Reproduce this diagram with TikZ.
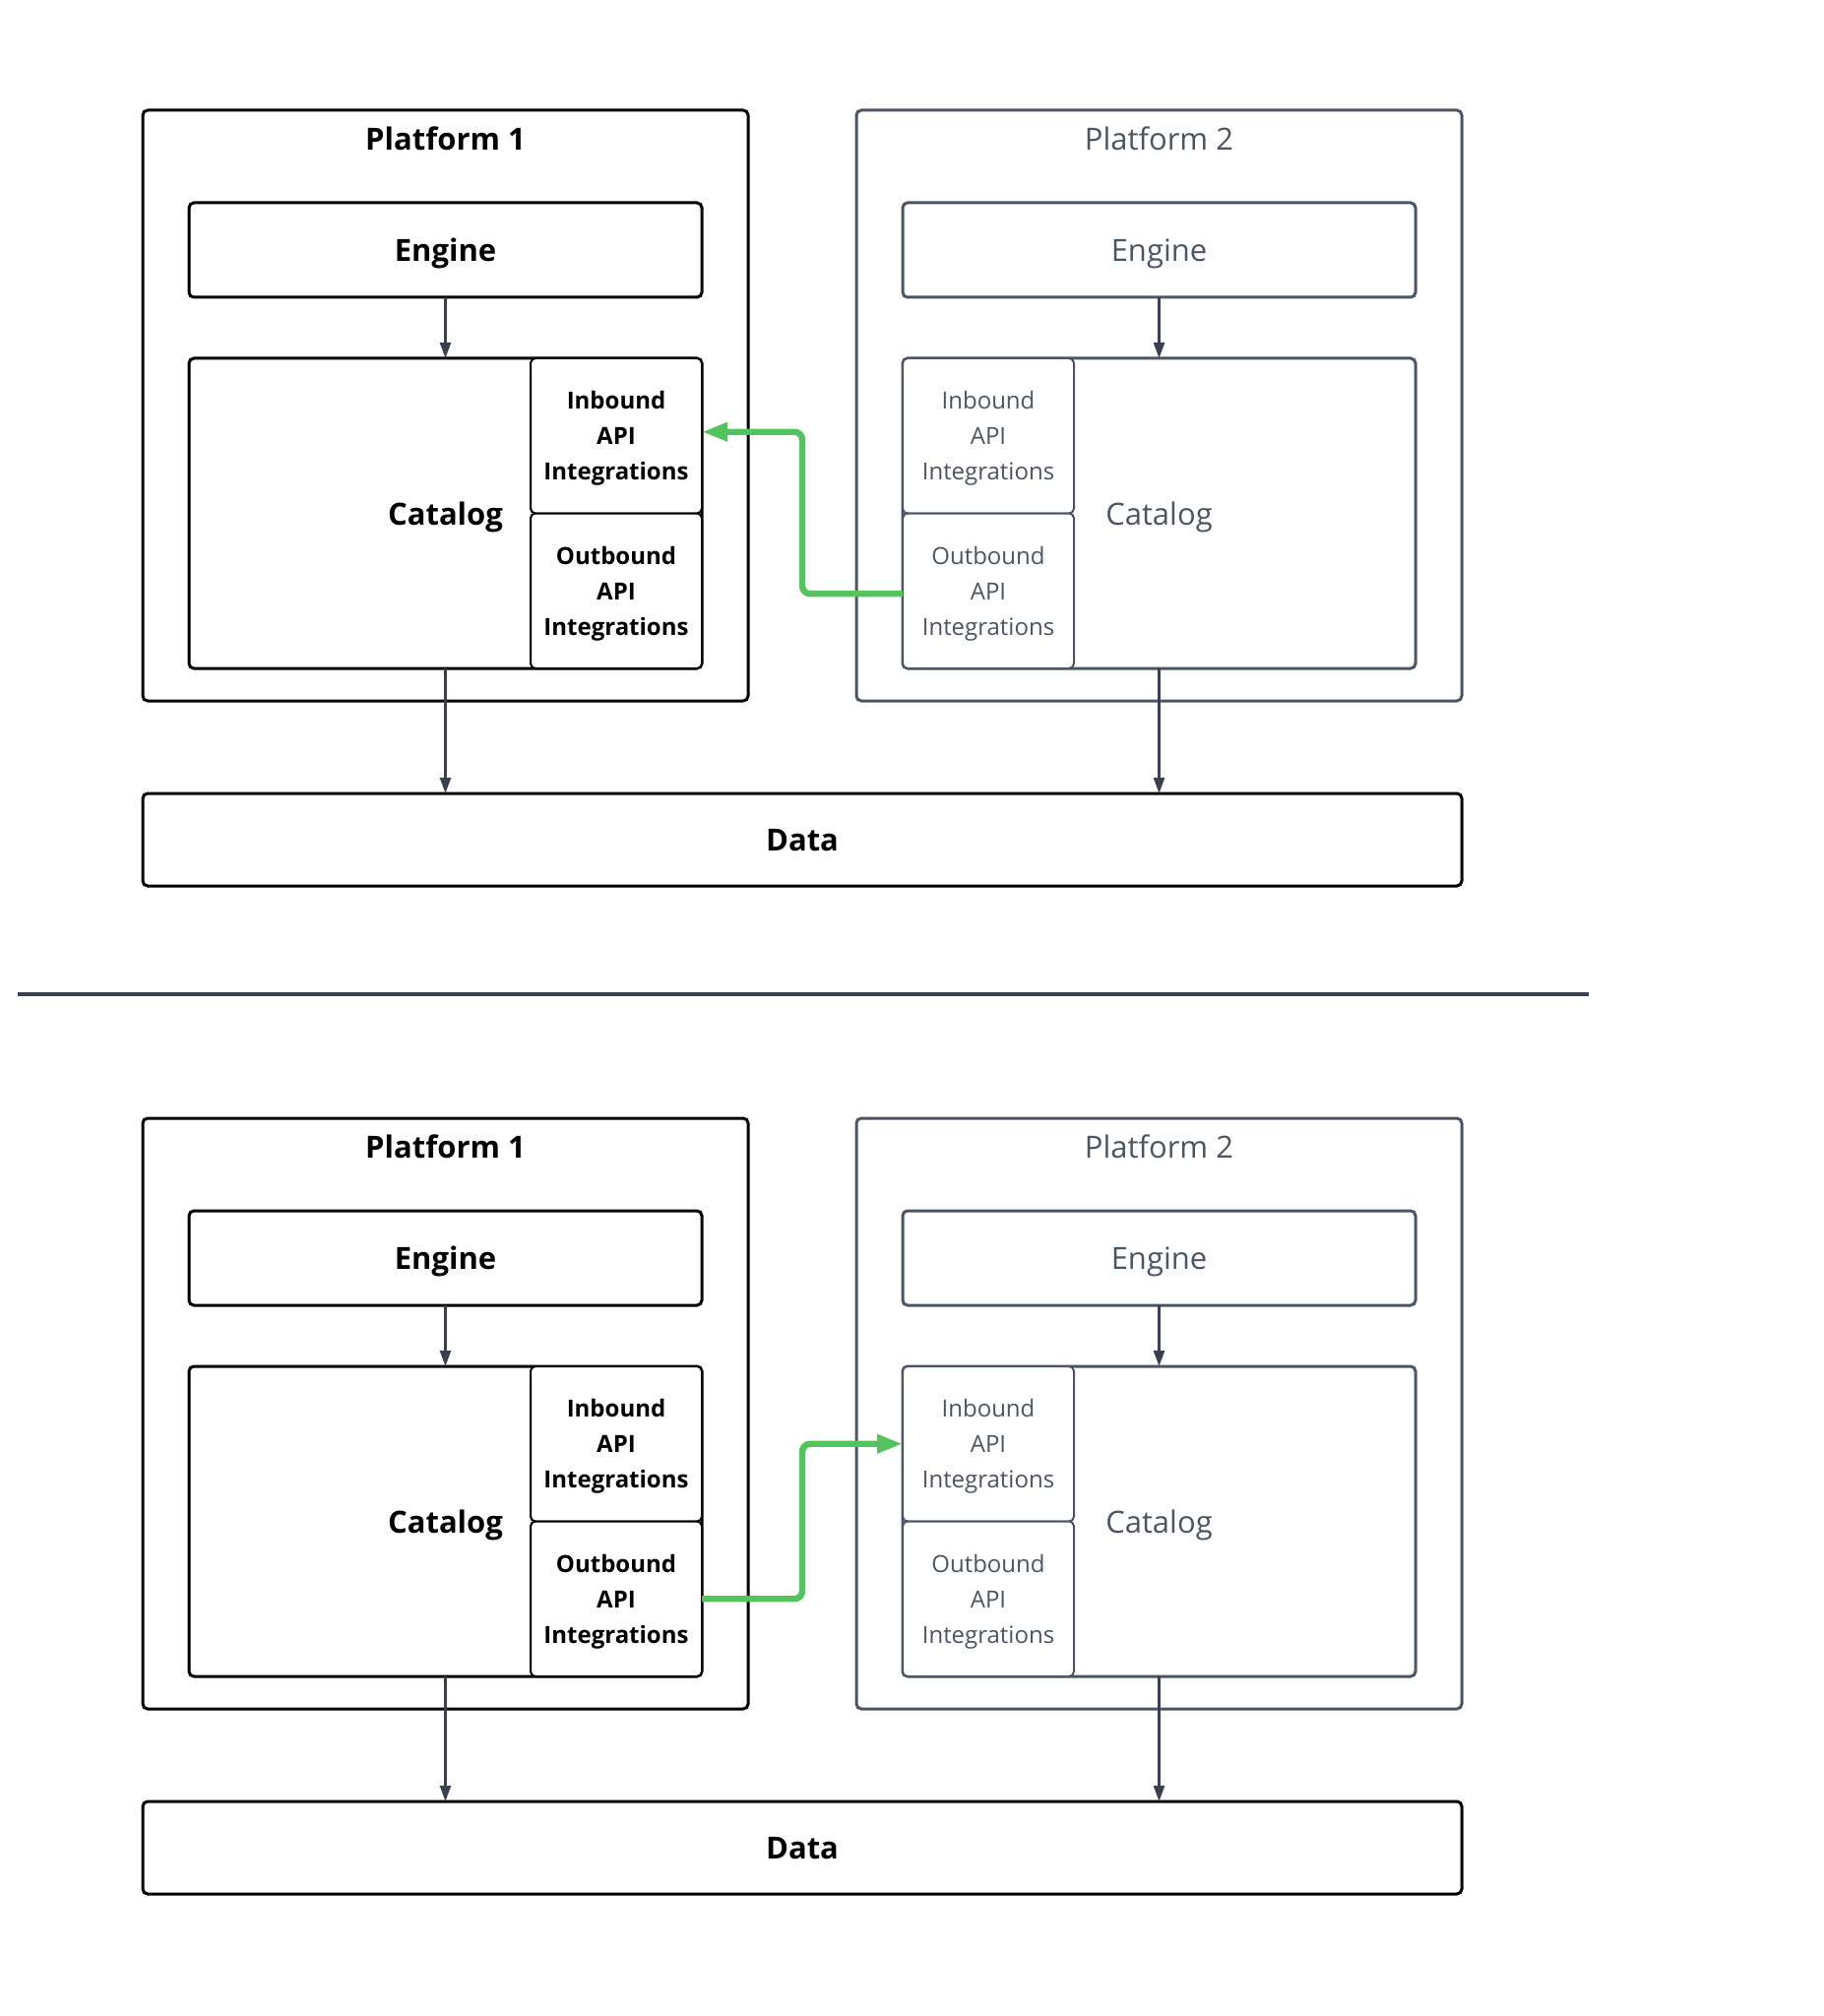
\documentclass[tikz,border=0pt]{standalone}
\usepackage{fontspec}
\setmainfont{Open Sans}
\usepackage{tikz}
\usetikzlibrary{arrows.meta,positioning}

\definecolor{slate}{HTML}{4B5563}
\definecolor{edgegray}{HTML}{374151}
\definecolor{linkgreen}{HTML}{52C35D}

\begin{document}
\begin{tikzpicture}[
  x=0.5pt, y=-0.5pt,
  every node/.style={outer sep=0pt, text depth=0pt},
  frame/.style={draw, rounded corners=2.5pt, line width=1.5pt, minimum width=307.5pt, minimum height=300pt},
  engbox/.style={draw, rounded corners=2.5pt, line width=1.5pt, minimum width=260.5pt, minimum height=48pt},
  catbox/.style={draw, rounded corners=2.5pt, line width=1.5pt, minimum width=260.5pt, minimum height=157.5pt},
  apibox/.style={draw, rounded corners=2.5pt, line width=1pt, fill=white, minimum width=87pt, minimum height=78.75pt, align=center},
  databox/.style={draw=black, rounded corners=2.5pt, line width=1.5pt, minimum width=670pt, minimum height=47pt},
  big1/.style={text=black, font=\fontsize{15.5}{19}\selectfont\bfseries},
  big2/.style={text=slate, font=\fontsize{15.5}{19}\selectfont},
  small1/.style={text=black, font=\fontsize{12}{18}\selectfont\bfseries},
  small2/.style={text=slate, font=\fontsize{12}{18}\selectfont},
  flow/.style={-{Triangle[length=8pt,width=5.5pt]}, line width=1.2pt, draw=edgegray},
  link/.style={-{Triangle[length=13pt,width=9pt]}, line width=3.2pt, draw=linkgreen, rounded corners=4pt},
  divider/.style={line width=2.2pt, draw=edgegray}
]
\useasboundingbox (0,0) rectangle (1852,2048);

% top half: platform 2 outbound -> platform 1 inbound
\node[frame, draw=black] (plat1a) at (452.5,412) {};
\node[big1] (ttl1a) at (452.5,141) {Platform 1};
\node[engbox, draw=black, big1] (eng1a) at (452.5,254) {Engine};
\node[catbox, draw=black, big1, below=31pt of eng1a] (cat1a) {Catalog};
\node[apibox, draw=black, small1, anchor=north east] (in1a) at (cat1a.north east) {Inbound\\API\\Integrations};
\node[apibox, draw=black, small1, below=0pt of in1a] (out1a) {Outbound\\API\\Integrations};

\node[frame, draw=slate] (plat2a) at (1177.5,412) {};
\node[big2] (ttl2a) at (1177.5,141) {Platform 2};
\node[engbox, draw=slate, big2] (eng2a) at (1177.5,254) {Engine};
\node[catbox, draw=slate, big2, below=31pt of eng2a] (cat2a) {Catalog};
\node[apibox, draw=slate, small2, anchor=north west] (in2a) at (cat2a.north west) {Inbound\\API\\Integrations};
\node[apibox, draw=slate, small2, below=0pt of in2a] (out2a) {Outbound\\API\\Integrations};

\node[databox, big1] (dataa) at (815,853) {Data};

\draw[flow] (eng1a) -- (cat1a);
\draw[flow] (eng2a) -- (cat2a);
\draw[flow] (cat1a) -- (cat1a |- dataa.north);
\draw[flow] (cat2a) -- (cat2a |- dataa.north);
\draw[link] ([yshift=-1.5pt]out2a.west) -- ([yshift=-1.5pt]out2a.west -| dataa) |- ([yshift=2pt]in1a.east);

% divider
\coordinate (sepl) at (18,1010);
\coordinate (sepr) at (1614,1010);
\draw[divider] (sepl) -- (sepr);

% bottom half: platform 1 outbound -> platform 2 inbound
\node[frame, draw=black] (plat1b) at (452.5,1436) {};
\node[big1] (ttl1b) at (452.5,1165) {Platform 1};
\node[engbox, draw=black, big1] (eng1b) at (452.5,1278) {Engine};
\node[catbox, draw=black, big1, below=31pt of eng1b] (cat1b) {Catalog};
\node[apibox, draw=black, small1, anchor=north east] (in1b) at (cat1b.north east) {Inbound\\API\\Integrations};
\node[apibox, draw=black, small1, below=0pt of in1b] (out1b) {Outbound\\API\\Integrations};

\node[frame, draw=slate] (plat2b) at (1177.5,1436) {};
\node[big2] (ttl2b) at (1177.5,1165) {Platform 2};
\node[engbox, draw=slate, big2] (eng2b) at (1177.5,1278) {Engine};
\node[catbox, draw=slate, big2, below=31pt of eng2b] (cat2b) {Catalog};
\node[apibox, draw=slate, small2, anchor=north west] (in2b) at (cat2b.north west) {Inbound\\API\\Integrations};
\node[apibox, draw=slate, small2, below=0pt of in2b] (out2b) {Outbound\\API\\Integrations};

\node[databox, big1] (datab) at (815,1877) {Data};

\draw[flow] (eng1b) -- (cat1b);
\draw[flow] (eng2b) -- (cat2b);
\draw[flow] (cat1b) -- (cat1b |- datab.north);
\draw[flow] (cat2b) -- (cat2b |- datab.north);
\draw[link] (out1b) -- (out1b -| datab) |- (in2b);
\end{tikzpicture}
\end{document}
